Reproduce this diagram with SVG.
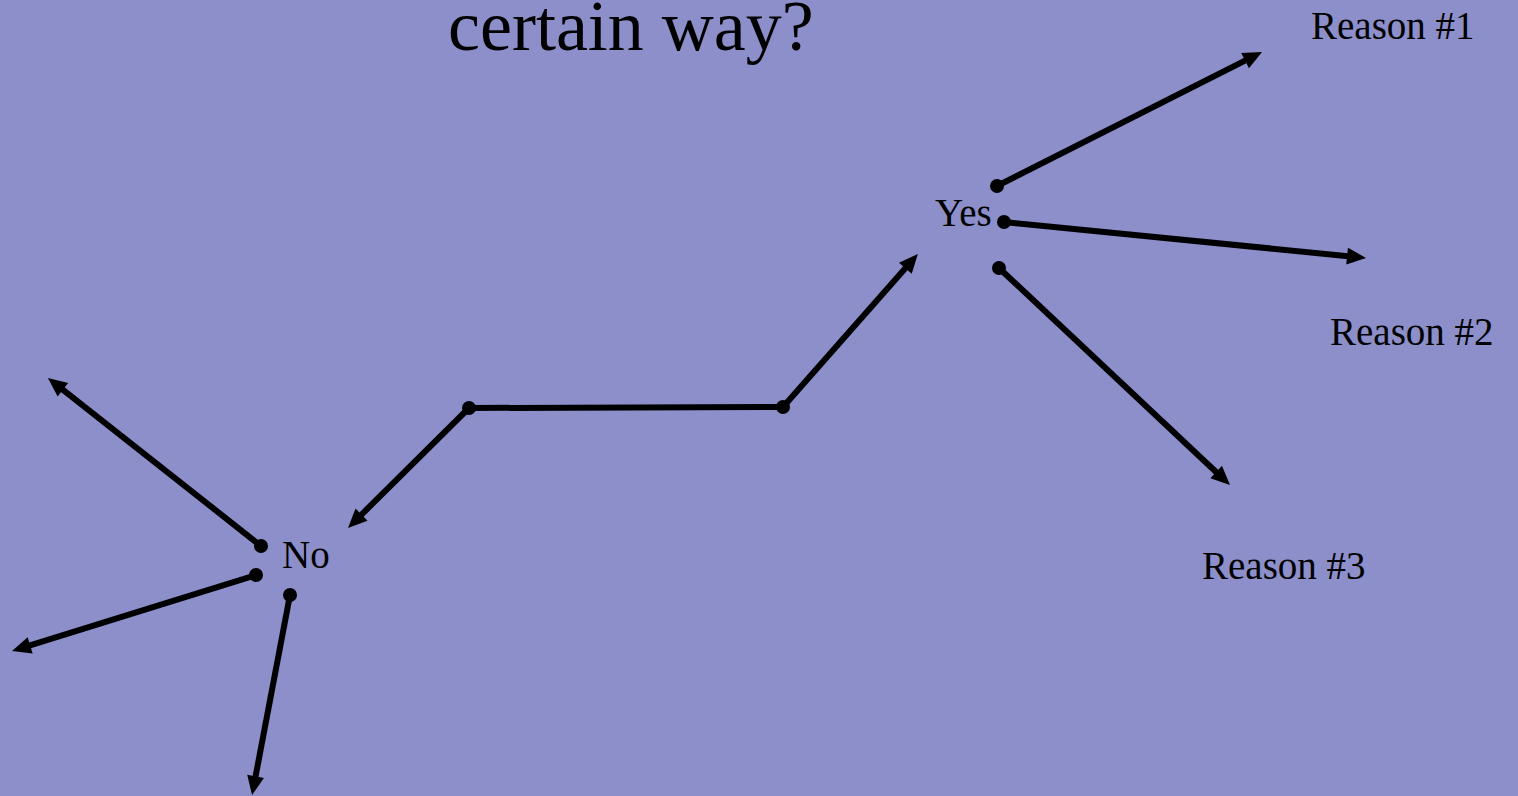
<svg xmlns="http://www.w3.org/2000/svg" width="1518" height="796" viewBox="0 0 1518 796">
<style>
.t{font-family:"Liberation Serif","Times New Roman",serif;fill:#000}
.lbl{font-size:39px}
.c line{stroke:#000;stroke-width:6;fill:none;marker-end:url(#ah)}
.c line.plain{marker-end:none}
.c circle{fill:#000}
</style>
<defs>
<marker id="ah" markerUnits="userSpaceOnUse" markerWidth="19" markerHeight="17" refX="1" refY="8.5" orient="auto" overflow="visible">
<path d="M0,0 L19,8.5 L0,17 Z" fill="#000"/>
</marker>
</defs>
<rect width="1518" height="796" fill="#8C8FCA"/>
<text class="t" x="448" y="50" font-size="72">certain way?</text>
<g id="node-reason1"><text class="t lbl" x="1311" y="39">Reason #1</text></g>
<g id="node-yes"><text class="t lbl" x="935" y="226">Yes</text></g>
<g id="node-reason2"><text class="t lbl" x="1330" y="345">Reason #2</text></g>
<g id="node-reason3"><text class="t lbl" x="1202" y="579">Reason #3</text></g>
<g id="node-no"><text class="t lbl" x="282" y="568">No</text></g>
<g id="connectors" class="c">
<line class="plain" x1="469" y1="408" x2="783" y2="407"/>
<line x1="469" y1="408" x2="360.8" y2="515.3"/>
<line x1="783" y1="407" x2="906" y2="267.5"/>
<line x1="997" y1="186" x2="1246" y2="60.1"/>
<line x1="1004" y1="222" x2="1348.1" y2="256.2"/>
<line x1="999" y1="268" x2="1216.9" y2="472.7"/>
<line x1="261" y1="546" x2="62.1" y2="389.1"/>
<line x1="256" y1="575" x2="29.2" y2="645.7"/>
<line x1="290" y1="595" x2="255.4" y2="777.3"/>
<circle cx="469" cy="408" r="7"/>
<circle cx="783" cy="407" r="7"/>
<circle cx="997" cy="186" r="7"/>
<circle cx="1004" cy="222" r="7"/>
<circle cx="999" cy="268" r="7"/>
<circle cx="261" cy="546" r="7"/>
<circle cx="256" cy="575" r="7"/>
<circle cx="290" cy="595" r="7"/>
</g>
</svg>
